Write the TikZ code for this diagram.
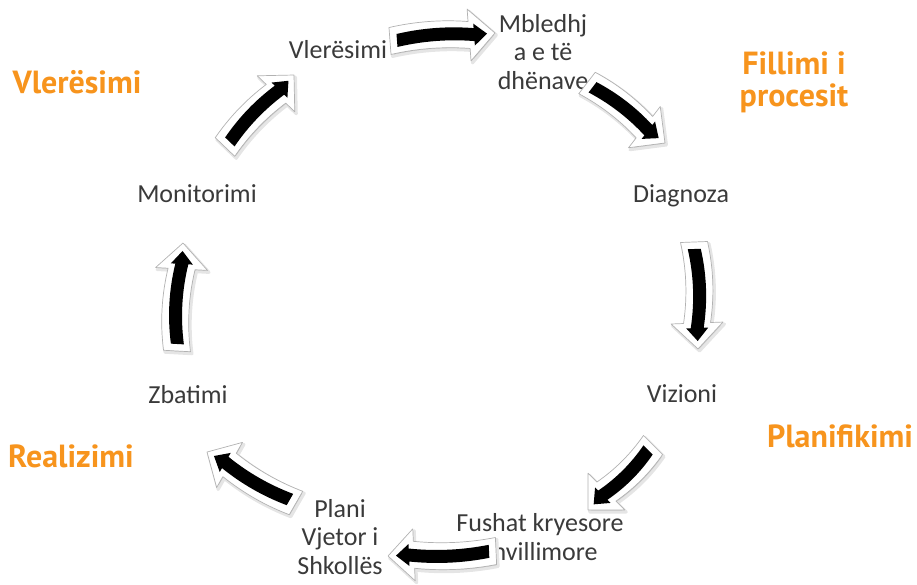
\documentclass[tikz,border=0pt]{standalone}
\usepackage{fontspec}
\setmainfont{Carlito}
\newfontfamily\orfont{PT Sans}
\definecolor{txt}{HTML}{3A3A3A}
\definecolor{orng}{HTML}{F7941D}
% block-arrow outline: start u, end u, shaft half width, head half width, head length, bend
\newcommand{\bpath}[6]{(#1,#3) .. controls ({#1+(#2-#5-#1)/3},{#3+(#6)}) and ({#1+2*(#2-#5-#1)/3},{#3+(#6)}) .. ({#2-#5},#3) -- ({#2-#5},#4) -- (#2,0) -- ({#2-#5},-#4) -- ({#2-#5},-#3) .. controls ({#1+2*(#2-#5-#1)/3},{-#3+(#6)}) and ({#1+(#2-#5-#1)/3},{-#3+(#6)}) .. (#1,-#3) -- cycle}
% block arrow from (x1,y1) to (x2,y2) with bend
\newcommand{\barrow}[5]{%
  \pgfmathsetmacro{\bang}{atan2(-(#4-#2),#3-#1)}%
  \pgfmathsetmacro{\blen}{veclen(#3-#1,#4-#2)}%
  \begin{scope}[shift={(#1+1.5,#2+2)},rotate=\bang]
    \path[arrshadow] \bpath{0}{\blen}{13.5}{26}{26}{#5};
  \end{scope}
  \begin{scope}[shift={(#1,#2)},rotate=\bang]
    \path[arrouter] \bpath{0}{\blen}{13.5}{26}{26}{#5};
    \path[arrinner] \bpath{7}{\blen-8}{6.5}{11}{13}{#5};
  \end{scope}}
\begin{document}
\begin{tikzpicture}[x=1pt,y=-1pt,
  lbl/.style={font=\fontsize{26}{28.5}\selectfont, text=txt, align=center, inner sep=0pt},
  phase/.style={font=\orfont\bfseries\fontsize{32}{32}\selectfont, text=orng, align=center, inner sep=0pt},
  arrshadow/.style={fill=black!20, draw=black!10, line width=3pt, line join=round},
  arrouter/.style={fill=white, draw=black!30, line width=0.7pt, line join=round},
  arrinner/.style={fill=black, line join=round}]
\useasboundingbox (0,0) rectangle (917,584);
% cycle stages
\node[lbl, anchor=base] (vle) at (338,58) {Vlerësimi};
\node[lbl] (mbl) at (543,52) {Mbledhj\\a e të\\dhënave};
\node[lbl, anchor=base] (dia) at (681,202) {Diagnoza};
\node[lbl, anchor=base] (viz) at (682,402) {Vizioni};
\node[lbl] (fus) at (540,537) {Fushat kryesore\\zhvillimore};
\node[lbl] (pla) at (340,537) {Plani\\Vjetor i\\Shkollës};
\node[lbl, anchor=base] (zba) at (188,403) {Zbatimi};
\node[lbl, anchor=base] (mon) at (197,202) {Monitorimi};
% phases
\node[phase, anchor=base] (pv) at (77,93) {Vlerësimi};
\node[phase] (pf) at (794,82) {Fillimi i\\procesit};
\node[phase, anchor=base] (pp) at (840,447) {Planifikimi};
\node[phase, anchor=base] (pr) at (71,467) {Realizimi};
% block arrows
\barrow{390}{41}{495}{33}{-4}
\barrow{587}{83}{665}{143}{-4}
\barrow{694}{242}{698}{349}{-5}
\barrow{653}{445}{588}{510}{-4}
\barrow{496}{551}{388}{556}{-4}
\barrow{296}{503}{207}{452}{-4}
\barrow{177}{351}{183}{243}{-5}
\barrow{225}{147}{294}{75}{-4}
\end{tikzpicture}
\end{document}
